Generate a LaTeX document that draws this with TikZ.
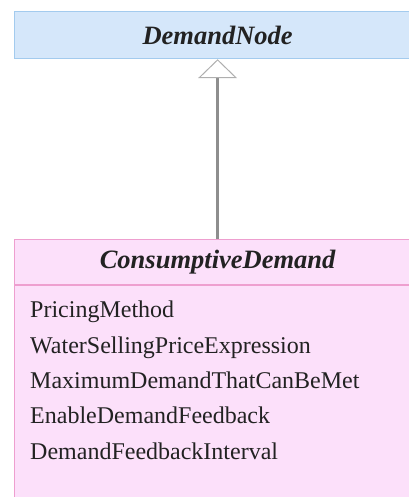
\documentclass[tikz,border=0pt]{standalone}
\usepackage{fontspec}
\setmainfont{Liberation Serif}
\usepackage{xcolor}
\definecolor{cBaseFill}{HTML}{D5E7FA}
\definecolor{cBaseLine}{HTML}{A3CBEE}
\definecolor{cSubFill}{HTML}{FCE0FA}
\definecolor{cSubLine}{HTML}{EE9FCF}
\definecolor{cText}{HTML}{222222}
\definecolor{cShaft}{HTML}{8E8E8E}
\definecolor{cTip}{HTML}{AFAFAF}
\usepackage{tikz}
\usetikzlibrary{positioning,arrows.meta}
\tikzset{
  class-base/.style={draw=cBaseLine,fill=cBaseFill,line width=1.2pt,
    minimum width=406pt,minimum height=47pt,inner sep=0pt,text=cText,
    font=\fontsize{26.5}{30}\selectfont\bfseries\itshape},
  class-sub/.style={draw=cSubLine,fill=cSubFill,line width=1.2pt,
    minimum width=406pt,minimum height=45pt,inner sep=0pt,text=cText,
    font=\fontsize{26.5}{30}\selectfont\bfseries\itshape},
  class-body/.style={draw=cSubLine,fill=cSubFill,line width=1.2pt,
    minimum width=406pt,minimum height=260pt,inner sep=0pt},
  attr/.style={inner xsep=0pt,inner ysep=7pt,text height=16pt,text depth=5pt,
    text=cText,font=\fontsize{24}{28}\selectfont},
  arrow-inherit/.style={-{Triangle[open,length=19pt,width=39pt,line width=1pt,color=cTip]},
    line width=3pt,draw=cShaft},
}
\begin{document}
\begin{tikzpicture}
  \useasboundingbox (0pt,0pt) rectangle (408pt,-497pt);
  \node[class-base,anchor=north west]            (dn)     at (14pt,-11pt)  {DemandNode};
  \node[class-sub,anchor=north west]             (cd)     at (14pt,-239pt) {ConsumptiveDemand};
  \node[class-body,below=0pt of cd]              (cdbody) {};
  \node[attr,anchor=north west]                  (a1)     at (30pt,-294.5pt) {PricingMethod};
  \node[attr,below=0pt of a1.south west,anchor=north west] (a2) {WaterSellingPriceExpression};
  \node[attr,below=0pt of a2.south west,anchor=north west] (a3) {MaximumDemandThatCanBeMet};
  \node[attr,below=0pt of a3.south west,anchor=north west] (a4) {EnableDemandFeedback};
  \node[attr,below=0pt of a4.south west,anchor=north west] (a5) {DemandFeedbackInterval};
  \draw[arrow-inherit] (cd.north) -- (dn.south);
\end{tikzpicture}
\end{document}
